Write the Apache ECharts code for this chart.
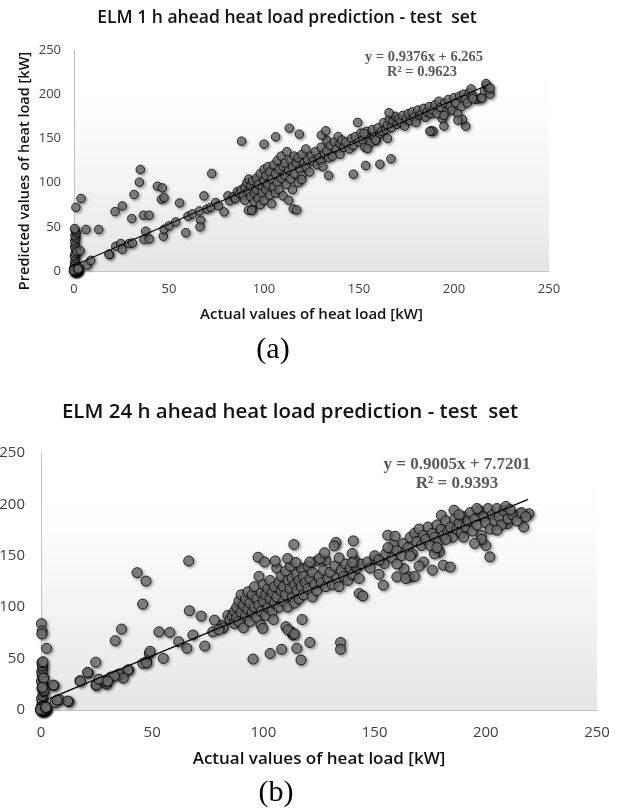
<!DOCTYPE html>
<html>
<head>
<meta charset="utf-8">
<title>ELM heat load prediction</title>
<script src="https://cdn.jsdelivr.net/npm/echarts/dist/echarts.min.js"></script>
<style>
  html, body { margin: 0; padding: 0; background: #fff; }
  #chart { width: 622px; height: 812px; }
</style>
</head>
<body>
<div id="chart"></div>
<script>
// axis ticks (both panels, both axes)
const axisTicks = [0, 50, 100, 150, 200, 250];

// (a) 1 h ahead: [actual, predicted]
const pointsA = [
  // stack near zero
  [0,0],[0.3,0.5],[0.6,1],[0.2,1.5],[0.8,0.3],[0.5,2],[1,1],[0.4,3],[0,4],[0.7,6],[0.3,8],[0.5,11],
  [0.8,14],[0.2,17],[0.6,20],[1,24],[0.4,27],[0.7,30],[0.3,34],[0.9,37],[0.5,40],[1.2,43],[0.6,46],
  [0.3,48],[1.5,22],[3.2,23],[1,72],[3.7,82],[1.5,2],[2,5],[7,6.5],[8.8,12],[6.3,47],[13,47],[18.6,19],
  [0,1],[0.5,0],[1,0.5],[1.5,1],[0.2,2.5],[1.2,3],[0,0.5],[0.8,2],[1.8,0.2],[0.4,1.2],
  [0.1,0.2],[0.7,0.1],[1.3,0.4],[0.3,0.9],[0.9,1.6],[1.6,1.8],[0,2],[0.6,2.6],[1.1,2.2],[2,0.8],
  [0.2,-0.5],[1,-0.3],[-0.3,0.6],[1.9,1.5],[2.2,2.4],
  // low range
  [18.4,18.9],[22,28],[24.6,31],[25.4,24.5],[29,31],[30.7,31.7],[36.8,35.5],[39.6,36.3],[37.7,45],
  [47,39.3],[47.4,47.2],[50,51],[53.5,55.5],[58.8,43.4],[60,62],[62.3,64.6],[66.7,57.4],[66.3,50],
  [68.4,85],[66,68],[70,70],[72,72],[74.6,77.4],[76,74],[79,66.8],[81,85],[81.9,79.3],[84,84],[86,90],
  [34.9,114.8],[34.4,100.5],[31.6,86.5],[43.9,95.9],[46.5,94],[25.4,73.6],[21.6,67.2],[30.4,59.3],
  [36.5,63.1],[39.5,63.1],[46,81.2],[47.4,83.1],[55.6,77],[72.5,110.3],
  // main cluster
  [85,82],[87,88],[88,92],[89,86],[90,95],[90,80],[91,100],[92,90],[92,104],[93,84],[93,96],[94,70],
  [94,102],[95,88],[95,78],[96,105],[96,92],[97,82],[97,98],[98,110],[98,75],[99,95],[99,88],[100,102],
  [100,115],[100,80],[101,92],[101,108],[102,118],[102,98],[103,86],[103,112],[104,104],[104,76],
  [105,95],[105,120],[106,110],[106,88],[107,100],[107,125],[108,115],[108,92],[109,105],[109,130],
  [110,118],[110,85],[111,108],[111,122],[112,98],[112,135],[113,114],[113,80],[114,125],[114,104],
  [115,118],[115,92],[116,130],[116,110],[117,122],[118,100],[118,128],[119,115],[120,108],[120,132],
  [121,122],[122,118],[122,138],[123,126],[124,112],[125,130],[126,124],[127,135],[128,120],[129,128],
  [130,140],[130,125],[131,118],[132,132],[133,136],[133,148],[134,128],[135,142],[136,130],[137,146],
  [138,138],[139,152],[140,144],[140,132],[141,148],[142,140],
  [88.2,146.9],[100,143.5],[106.1,151.8],[113.3,161.6],[118.6,154.8],[130.2,153.7],[132.5,158.6],
  [119.8,103.5],[115.4,70.2],[117.2,69.1],[91.8,68.7],[93.5,68.7],[134,108],
  // upper band
  [143,146],[145,138],[146,150],[147,142],[148,152],[150,146],[151,156],[152,148],[153,140],[154,158],
  [155,150],[156,145],[157,160],[158,152],[159,148],[160,162],[161,155],[162,158],[163,168],[164,160],
  [165,165],[166,172],[167,162],[168,170],[169,175],[170,166],[171,172],[172,168],[173,176],[174,164],
  [175,172],[176,178],[177,170],[178,180],[179,174],[180,168],[181,182],[182,176],[183,178],[184,184],
  [185,174],[186,180],[187,186],[188,178],[189,182],[190,188],[191,178],[192,192],[193,185],[194,172],
  [195,190],[196,180],[197,194],[198,186],[199,182],[200,196],[201,190],[202,178],[203,198],[204,186],
  [205,200],[206,194],[207,190],[208,202],[209,206],[210,198],[212,194],[214,196],[216,204],[217,210],
  [218,206],[219,200],
  [147,109.5],[153.5,119.3],[161,120.8],[166.8,126.9],[149.3,168],[188,158.6],[189,158.2],[194.7,163.9],
  [206.1,163.9],[204.4,171.5],[194.7,176],[187.3,158],[202,170.6],[216.8,212],[219,207],[214.6,195.5],
  [209.8,195],[165.8,179],[152.6,155.6],[154.4,138.6],[158.8,148],[165,150]
];

// (b) 24 h ahead: [actual, predicted]
const pointsB = [
  // stack near zero
  [0,0],[0.4,0.5],[0.8,1],[0.2,2],[1,0.3],[0.6,3],[1.2,1.5],[0.3,4],[0.9,5],[0.5,8],[0.2,11],[0.8,14],
  [1,18],[0.4,21],[0.7,25],[0.2,28],[0.9,31],[0.5,34],[0.3,37],[0.8,40],[0.6,43],[0.4,46],[0.9,47],
  [0.2,84],[0.5,77],[0.4,74],[2.5,60],[1.5,19],[1.2,31],[0.6,22],
  [0,1],[0.5,0],[1,1],[1.5,0.5],[0.2,2.8],[1.3,3],[0,0.4],[0.8,2.2],[1.8,0.2],[0.4,1.4],[1.6,2],
  [0.1,0.2],[0.7,0.1],[1.3,0.6],[0.3,1],[0.9,1.7],[1.7,1.2],[0,2.2],[0.6,2.8],[1.1,2.4],[2.1,0.9],
  [0.2,-0.6],[1,-0.4],[-0.3,0.6],[2,1.8],[2.3,2.6],
  // low range
  [5.8,23.6],[6.3,7],[8.5,10],[12.6,8],[5.6,24.3],[12,8.7],[7.2,9.7],[17.5,28.5],[21.3,36],[24.6,46.5],
  [24.7,24],[29.5,25],[31.3,32],[20.9,36.6],[17.7,28],[24.9,24.3],[28.9,27.5],[36.2,34],[39.4,38.9],
  [47.4,47],[45.8,45.3],[39.1,39],[35,35],[37,31],[33,33],[26,30],[30,28],
  [43.2,133.6],[47.2,125.4],[45.7,103],[66.4,145],[66.7,96.5],[72,91.3],[36.2,78.7],[33.4,67.4],
  [53,76],[57.9,75.5],[55,50.2],[73.6,62.2],[65.6,60],[61.9,66.4],[68.3,72.9],[77.2,76],[81.2,82.6],
  [78,87.4],[47.5,46],[48.7,55],[49,57],[82,80],[84,92],[80,78],
  // main cluster
  [85,88],[86,92],[87,96],[87,84],[88,100],[88,90],[89,106],[89,86],[90,112],[90,95],[91,80],[91,102],
  [92,108],[92,92],[93,115],[93,98],[94,86],[94,104],[95,112],[95,95],[96,100],[96,120],[97,90],[97,108],
  [98,130],[98,102],[99,96],[99,114],[100,106],[100,122],[101,92],[101,112],[102,118],[102,100],
  [103,126],[103,108],[104,96],[104,114],[105,120],[105,104],[106,138],[106,110],[107,100],[107,124],
  [108,116],[108,130],[109,106],[109,120],[110,112],[110,135],[111,126],[111,100],[112,118],[112,140],
  [113,110],[113,128],[114,122],[114,104],[115,132],[115,116],[116,108],[116,126],[117,120],[117,138],
  [118,112],[118,130],[119,124],[120,118],[120,140],[121,128],[122,110],[122,134],[123,122],[124,145],
  [124,116],[125,130],[126,124],[127,136],[128,120],[128,146],[129,128],[130,134],[131,122],[132,140],
  [133,128],[134,148],[134,120],[135,136],[136,130],[137,142],[138,126],[139,138],[140,132],[141,146],
  [142,138],[143,128],[144,142],
  [95.3,49.5],[103,55],[108.2,59],[115,60],[116.9,48.6],[120.9,65.7],[134.7,65.7],[134.7,59],
  [113.3,72.9],[110.1,81],[112.5,76],[117.4,88],[98.9,82.6],[99.7,79.3],[104.5,88],[111,78],[114,74],
  [97.6,148.6],[100.5,144],[105.3,145],[110.9,147.3],[114.6,143.5],[113.7,161],[120.9,144],[125.4,147.3],
  [127.5,153],[132.6,163],[131.8,159.7],[140.4,164.5],[139.9,152.2],[140,143.5],[143.1,113.3],[144.7,111],
  // upper band
  [146.8,144],[150.3,146.7],[153.9,121.4],[154.3,142.5],[155.9,170],[159.2,169],[158.4,160.3],
  [160,129.5],[163.2,137.6],[165.6,129.5],[164,127.9],[172,144],[176,136],[180.9,140.9],[184,139],
  [179.2,153.8],[176.9,152],[201.8,149],[217,178],[219.4,191],[215.4,191],[209.8,181.3],[185.7,194.3],
  [180,189.4],
  [148,138],[150,150],[152,146],[155,152],[156,158],[158,148],[160,155],[162,150],[163,162],[165,158],
  [166,168],[167,152],[168,172],[169,164],[170,176],[171,160],[172,170],[173,166],[174,178],[175,160],
  [176,172],[177,168],[178,180],[179,164],[180,176],[181,170],[182,184],[183,174],[184,178],[185,168],
  [186,186],[187,176],[188,182],[189,172],[190,188],[191,178],[192,184],[193,192],[194,174],[195,186],
  [196,180],[197,194],[198,170],[199,188],[200,182],[201,196],[202,176],[203,190],[204,184],[205,196],
  [206,188],[207,180],[208,194],[209,198],[210,186],[212,190],[214,184],[216,192],[218,188],
  [200,160],[198,166],[190,168],[205,175],[170,140],[168,130],[166,150],[178,158],[188,190],[195,162],
  [160,142],[152,132],[211,195],[196,196],[182,166]
];

// linear trendlines (end points)
const trendA = [[0, 6.3], [218, 210.7]];
const trendB = [[0, 7.7], [219, 204.9]];

const chart = echarts.init(document.getElementById('chart'));

const sans = '"Open Sans", "DejaVu Sans", sans-serif';
const serif = '"Liberation Serif", "DejaVu Serif", serif';

const plotBg = {
  type: 'linear', x: 0, y: 0, x2: 0, y2: 1,
  colorStops: [
    { offset: 0, color: '#ffffff' },
    { offset: 0.3, color: '#fdfdfd' },
    { offset: 1, color: '#e6e6e6' }
  ]
};

function valueAxis(gridIndex, fontSize, margin, name, nameSize, nameGap) {
  return {
    type: 'value',
    gridIndex: gridIndex,
    min: 0,
    max: 250,
    interval: 50,
    name: name,
    nameLocation: 'middle',
    nameGap: nameGap,
    nameTextStyle: { fontFamily: sans, fontWeight: 600, fontSize: nameSize, color: '#111' },
    axisLine: { show: true, lineStyle: { color: '#c4c4c4', width: 1 } },
    axisTick: { show: false },
    splitLine: { show: false },
    axisLabel: {
      fontFamily: sans, fontSize: fontSize, color: '#404040', margin: margin,
      formatter: v => axisTicks.indexOf(v) >= 0 ? String(v) : ''
    }
  };
}

function pointSeries(idx, data, size) {
  return {
    type: 'scatter',
    xAxisIndex: idx,
    yAxisIndex: idx,
    data: data,
    symbolSize: size,
    clip: false,
    itemStyle: {
      color: '#777777',
      borderColor: '#000',
      borderWidth: 1,
      shadowBlur: 3,
      shadowOffsetX: 1.5,
      shadowOffsetY: 1.5,
      shadowColor: 'rgba(0,0,0,0.45)'
    },
    z: 2
  };
}

function trendSeries(idx, data) {
  return {
    type: 'line',
    xAxisIndex: idx,
    yAxisIndex: idx,
    data: data,
    symbol: 'none',
    lineStyle: { color: '#000', width: 1.2 },
    z: 3
  };
}

function label(x, y, text, font, fill) {
  return {
    type: 'text',
    x: x, y: y,
    style: {
      text: text, font: font, fill: fill,
      textAlign: 'center', textVerticalAlign: 'middle',
      align: 'center', verticalAlign: 'middle'
    }
  };
}

chart.setOption({
  animation: false,
  grid: [
    { left: 74, right: 73, top: 50, bottom: 541, show: true, borderWidth: 0, backgroundColor: plotBg, outerBoundsMode: 'none' },
    { left: 41, right: 25, top: 453, bottom: 102, show: true, borderWidth: 0, backgroundColor: plotBg, outerBoundsMode: 'none' }
  ],
  xAxis: [
    valueAxis(0, 13, 12, 'Actual values of heat load [kW]', 15, 36),
    valueAxis(1, 15, 15, 'Actual values of heat load [kW]', 17, 41)
  ],
  yAxis: [
    valueAxis(0, 13, 13, '', 14, 40),
    valueAxis(1, 15, 16, '', 14, 40)
  ],
  series: [
    pointSeries(0, pointsA, 8.5),
    trendSeries(0, trendA),
    pointSeries(1, pointsB, 10),
    trendSeries(1, trendB)
  ],
  graphic: [
    label(287, 18, 'ELM 1 h ahead heat load prediction - test  set', '600 17.5px ' + sans, '#111'),
    label(290, 412, 'ELM 24 h ahead heat load prediction - test  set', '600 20.5px ' + sans, '#111'),
    label(424, 57, 'y = 0.9376x + 6.265', 'bold 14.5px ' + serif, '#5a5a5a'),
    label(422, 72, 'R² = 0.9623', 'bold 14.5px ' + serif, '#5a5a5a'),
    label(457, 465, 'y = 0.9005x + 7.7201', 'bold 17px ' + serif, '#5a5a5a'),
    label(457, 484, 'R² = 0.9393', 'bold 17px ' + serif, '#5a5a5a'),
    label(273, 350, '(a)', '30px ' + serif, '#000'),
    label(276, 793, '(b)', '30px ' + serif, '#000'),
    {
      type: 'text',
      x: 25, y: 171,
      rotation: Math.PI / 2,
      style: {
        text: 'Predicted values of heat load [kW]', font: '600 14.5px ' + sans, fill: '#111',
        textAlign: 'center', textVerticalAlign: 'middle', align: 'center', verticalAlign: 'middle'
      }
    }
  ]
});
</script>
</body>
</html>
